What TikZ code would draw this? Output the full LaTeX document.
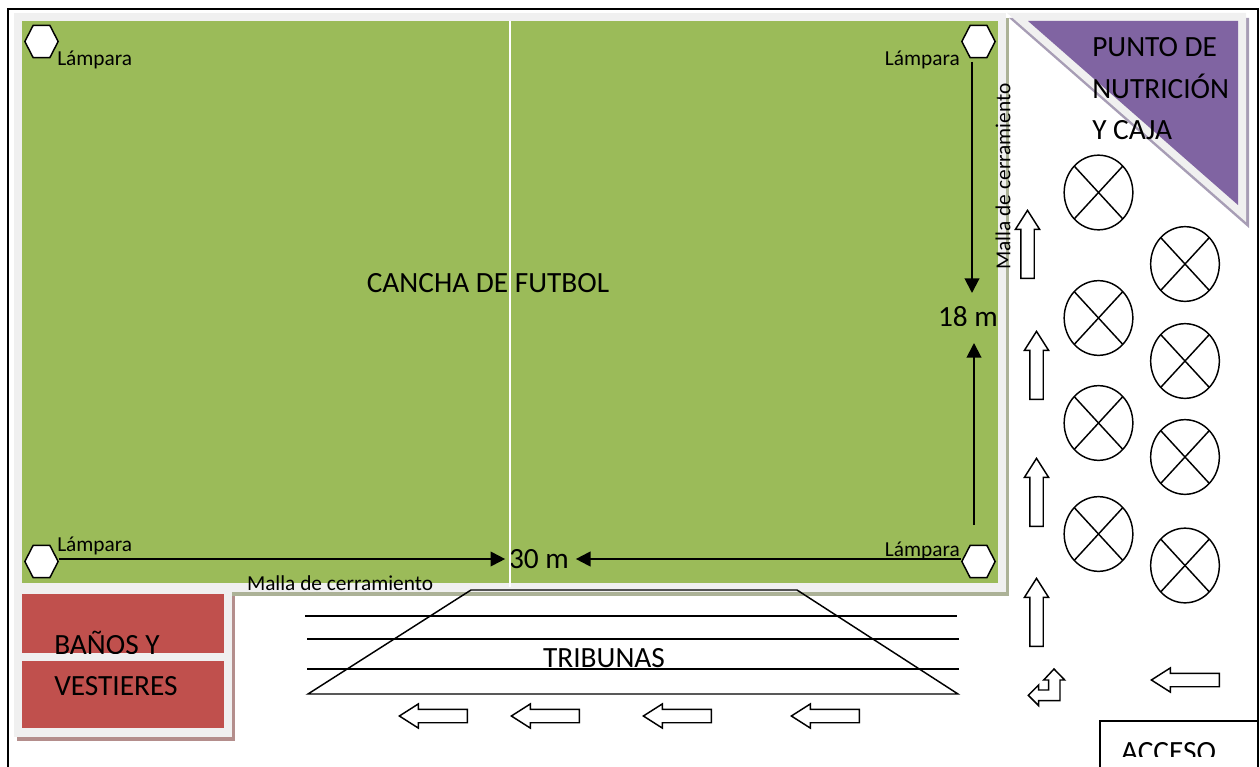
\documentclass[tikz,border=0pt]{standalone}
\usepackage{fontspec}
\setmainfont{Carlito}
\usetikzlibrary{shapes.geometric,shapes.arrows,arrows.meta}
\definecolor{cancha}{HTML}{9BBB59}
\definecolor{banos}{HTML}{C0504D}
\definecolor{punto}{HTML}{8064A2}
\definecolor{marco}{HTML}{F0F0F0}
\tikzset{
  lampara/.style={regular polygon,regular polygon sides=6,draw=black,fill=white,line width=1.1pt,minimum size=25pt,inner sep=0pt,yscale=1.12},
  mesa/.style={ellipse,draw=black,line width=1.1pt,minimum width=51.5pt,minimum height=56pt,inner sep=0pt,
    path picture={\draw[line width=1.1pt](path picture bounding box.north west)--(path picture bounding box.south east);
      \draw[line width=1.1pt](path picture bounding box.north east)--(path picture bounding box.south west);}},
  flecha/.style={single arrow,draw=black,fill=white,line width=1.1pt,minimum height=51pt,
    single arrow head extend=4pt,single arrow tip angle=65,inner xsep=0pt,inner ysep=4.5pt,anchor=tip},
  rotulo/.style={font=\fontsize{22}{24}\selectfont,inner sep=0pt},
  chico/.style={font=\fontsize{16}{18}\selectfont,inner sep=0pt},
  medida/.style={-{Triangle[length=11pt,width=11pt]},line width=1.5pt},
}
\begin{document}
\begin{tikzpicture}[x=0.75pt,y=-0.75pt]
  \clip (0,0) rectangle (1260,767);
  \draw[line width=1.5pt](8,9) rectangle (1258,790);
  % cancha
  \fill[color={rgb,255:red,172;green,178;blue,151}](17,18) rectangle (1009,596);
  \fill[marco](14,13) rectangle (1006,592);
  \fill[cancha](22,21) rectangle (998,583);
  % banos
  \fill[color={rgb,255:red,180;green,142;blue,140}](17,596) rectangle (235,741);
  \fill[marco](14,590) rectangle (232,737);
  \fill[banos](22,594) rectangle (224,653);
  \fill[banos](22,661) rectangle (224,728);
  % punto de nutricion
  \fill[color={rgb,255:red,167;green,157;blue,181}](1009,18)--(1249,18)--(1249,228)--cycle;
  \fill[marco](1007,13)--(1246,13)--(1246,222)--cycle;
  \fill[punto](1028,21)--(1238,21)--(1238,205)--cycle;
  \node[rotulo] (cancha) at (488,283) {CANCHA DE FUTBOL};
  % lamparas
  \node[lampara] (lampTL) at (41.5,41.5) {};
  \node[lampara] (lampBL) at (41.5,561.5) {};
  \node[lampara] (lampTR) at (978.5,41.5) {};
  \node[lampara] (lampBR) at (978.5,561.5) {};
  \node[chico,anchor=west] (txtTL) at (57,60) {Lámpara};
  \node[chico,anchor=west] (txtBL) at (57,546) {Lámpara};
  \node[chico,anchor=east] (txtTR) at (960,60) {Lámpara};
  \node[chico,anchor=east] (txtBR) at (960,551) {Lámpara};
  % medidas
  \begin{scope}
    \clip (490,540) rectangle (590,568);
    \node[rotulo,inner xsep=2.75pt] (m30) at (539,559) {30 m};
  \end{scope}
  \begin{scope}
    \clip (900,300) rectangle (1005,325);
    \node[rotulo,inner ysep=4pt] (m18) at (968,317) {18 m};
  \end{scope}
  \fill[white](509,21) rectangle (511,587);
  \coordinate (ini18a) at (972,62);
  \coordinate (fin18a) at (972,293);
  \coordinate (ini18b) at (974,525);
  \coordinate (fin18b) at (974,343);
  \draw[medida](ini18a)--(fin18a);
  \draw[medida](ini18b)--(fin18b);
  \draw[medida](lampBL.east |- m30.west)--(m30.west);
  \draw[medida,shorten >=2.25pt](lampBR.west |- m30.east)--(m30.east);
  \node[chico] (mallaH) at (340,583) {Malla de cerramiento};
  \node[chico,rotate=90] (mallaV) at (1003,176.5) {Malla de cerramiento};
  % punto
  \node[rotulo,anchor=west] (punto1) at (1092,47) {PUNTO DE};
  \node[rotulo,anchor=west] (punto2) at (1092,86) {NUTRICIÓN};
  \begin{scope}
    \clip (1080,110) rectangle (1200,139);
    \node[rotulo,anchor=west] (punto3) at (1092,130) {Y CAJA};
  \end{scope}
  % banos texto
  \begin{scope}
    \clip (40,625) rectangle (200,653);
    \node[rotulo,anchor=west] (banos1) at (54,643) {BAÑOS Y};
  \end{scope}
  \node[rotulo,anchor=west] (banos2) at (54,686) {VESTIERES};
  % tribunas
  \draw[line width=1.1pt](471,590)--(797,590)--(958,694)--(308,694)--cycle;
  \draw[line width=1.1pt](305,616)--(957,616);
  \draw[line width=1.1pt](307,639)--(959,639);
  \begin{scope}
    \clip (520,640) rectangle (690,668);
    \node[rotulo] (tribunas) at (604,658) {TRIBUNAS};
  \end{scope}
  \draw[line width=1.1pt](307,669)--(959,669);
  % mesas
  \node[mesa] (mesa1) at (1098.5,192.5) {};
  \node[mesa] (mesa2) at (1098.5,318) {};
  \node[mesa] (mesa3) at (1098.5,423) {};
  \node[mesa] (mesa4) at (1098.5,534) {};
  \node[mesa] (mesa5) at (1185,264) {};
  \node[mesa] (mesa6) at (1185,361) {};
  \node[mesa] (mesa7) at (1185,457) {};
  \node[mesa] (mesa8) at (1185,565.5) {};
  % flechas
  \node[flecha,rotate=90] (sube1) at (1036.5,577) {};
  \node[flecha,rotate=90] (sube2) at (1036.5,457) {};
  \node[flecha,rotate=90] (sube3) at (1036.5,330) {};
  \node[flecha,rotate=90] (sube4) at (1027.5,209) {};
  \node[flecha,rotate=180] (izq1) at (1150,680) {};
  \node[flecha,rotate=180] (izq2) at (398,716) {};
  \node[flecha,rotate=180] (izq3) at (510,716) {};
  \node[flecha,rotate=180] (izq4) at (642,716) {};
  \node[flecha,rotate=180] (izq5) at (790,716) {};
  \draw[line width=1.1pt,fill=white](1054,669)--(1064.7,680)--(1060,680)--(1060,700.7)--(1038.7,700.7)--(1038.7,705.7)--(1028.3,695.3)--(1038.7,685)--(1038.7,690)--(1048.7,690)--(1048.7,680)--(1043.7,680)--cycle;
  % acceso
  \draw[line width=1.1pt](1100,721) rectangle (1258,790);
  \begin{scope}
    \clip (1105,730) rectangle (1250,756);
    \node[rotulo] (acceso) at (1168.5,752) {ACCESO};
  \end{scope}
\end{tikzpicture}
\end{document}
